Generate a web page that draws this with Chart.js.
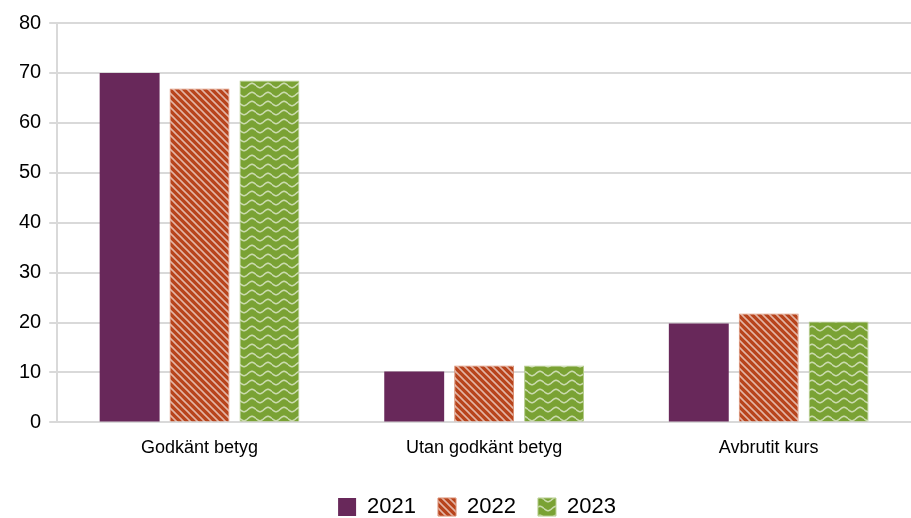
<!DOCTYPE html>
<html>
<head>
<meta charset="utf-8">
<script src="https://cdn.jsdelivr.net/npm/chart.js@4"></script>
<style>
  body { margin: 0; background: #fff; }
  #wrap { width: 911px; height: 518px; }
</style>
</head>
<body>
<div id="wrap"><canvas id="canvas"></canvas></div>
<script>
var categories = ['Godkänt betyg', 'Utan godkänt betyg', 'Avbrutit kurs'];
var years = ['2021', '2022', '2023'];
var values2021 = [70.0, 10.2, 19.8];
var values2022 = [66.9, 11.4, 21.8];
var values2023 = [68.5, 11.4, 20.2];
var yTicks = [0, 10, 20, 30, 40, 50, 60, 70, 80];

// diagonal stripe pattern for 2022
function stripePattern(bg) {
    var c = document.createElement('canvas');
    c.width = 7; c.height = 7;
    var g = c.getContext('2d');
    g.fillStyle = bg;
    g.fillRect(0, 0, 7, 7);
    g.strokeStyle = 'rgba(255,255,255,0.6)';
    g.lineWidth = 1.6;
    g.beginPath();
    g.moveTo(-2, -2); g.lineTo(9, 9);
    g.moveTo(-9, -2); g.lineTo(2, 9);
    g.moveTo(5, -2); g.lineTo(16, 9);
    g.stroke();
    return g.createPattern(c, 'repeat');
}

// wavy pattern for 2023
function wavePattern(bg) {
    var c = document.createElement('canvas');
    c.width = 16; c.height = 9;
    var g = c.getContext('2d');
    g.fillStyle = bg;
    g.fillRect(0, 0, 16, 9);
    g.strokeStyle = 'rgba(255,255,255,0.6)';
    g.lineWidth = 1.6;
    g.beginPath();
    for (var x = 0; x <= 16; x += 0.5) {
        var y = 4.5 + 2.2 * Math.sin(x / 16 * Math.PI * 2);
        if (x == 0) g.moveTo(x, y); else g.lineTo(x, y);
    }
    g.stroke();
    return g.createPattern(c, 'repeat');
}

var purple = '#68285a';
var orange = '#b8441c';
var green = '#7aa234';

// nudge the legend a little to the right, as in the original
var legendShift = {
    id: 'legendShift',
    afterLayout: function(chart) {
        chart.legend.left += 16;
        chart.legend.right += 16;
    }
};

var ctx = document.getElementById('canvas').getContext('2d');
var myChart = new Chart(ctx, {
    type: 'bar',
    data: {
        labels: categories,
        datasets: [{
            label: years[0],
            data: values2021,
            backgroundColor: purple,
            borderWidth: 0
        },
        {
            label: years[1],
            data: values2022,
            backgroundColor: stripePattern(orange),
            borderColor: '#d98a6c',
            borderWidth: 1
        },
        {
            label: years[2],
            data: values2023,
            backgroundColor: wavePattern(green),
            borderColor: '#b4cc8a',
            borderWidth: 1
        }]
    },
    options: {
        responsive: true,
        maintainAspectRatio: false,
        animation: false,
        categoryPercentage: 0.737,
        barPercentage: 0.857,
        layout: { padding: { top: 23, right: 0, left: 11, bottom: -10 } },
        plugins: {
            legend: {
                position: 'bottom',
                labels: {
                    boxWidth: 18,
                    boxHeight: 18,
                    padding: 22,
                    color: '#000',
                    font: { family: 'Liberation Sans, Arial', size: 22 }
                }
            },
            tooltip: { enabled: false }
        },
        scales: {
            x: {
                grid: { display: false },
                border: { display: false },
                afterFit: function(scale) {
                    scale.height += 8;
                },
                ticks: {
                    color: '#000',
                    padding: 7,
                    font: { family: 'Liberation Sans, Arial', size: 18 }
                }
            },
            y: {
                min: 0,
                max: 80,
                afterBuildTicks: function(axis) {
                    axis.ticks = yTicks.map(function(v) { return { value: v }; });
                },
                grid: {
                    color: '#d9d9d9',
                    lineWidth: 2,
                    tickLength: 8
                },
                border: { display: true, color: '#d9d9d9', width: 2 },
                ticks: {
                    color: '#000',
                    padding: 8,
                    font: { family: 'Liberation Sans, Arial', size: 20 }
                }
            }
        }
    },
    plugins: [legendShift]
});
</script>
</body>
</html>
